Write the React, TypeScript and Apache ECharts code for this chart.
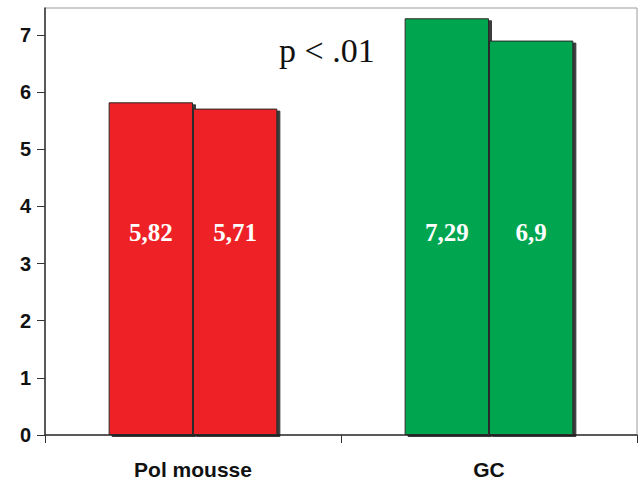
import React, { useEffect, useRef } from "react";
import * as echarts from "echarts";

const categories = ["Pol mousse", "GC"];
const seriesA = [5.82, 7.29];
const seriesB = [5.71, 6.9];
const barColors = ["#EE2126", "#00A64F"];
const yTicks = [0, 1, 2, 3, 4, 5, 6, 7];
const annotation = "p < .01";

const fmt = (v: number) => String(v).replace(".", ",");

export default function App() {
  const ref = useRef<HTMLDivElement>(null);
  useEffect(() => {
    if (!ref.current) return;
    const chart = echarts.init(ref.current, null, { renderer: "svg" });
    const mkSeries = (vals: number[], name: string) => ({
      type: "bar",
      name,
      barGap: "0%",
      barCategoryGap: "43%",
      data: vals.map((v, i) => ({
        value: v,
        itemStyle: { color: barColors[i] },
      })),
      itemStyle: {
        borderColor: "#2a2a2a",
        borderWidth: 1,
        shadowColor: "rgba(20,20,20,0.85)",
        shadowOffsetX: 3,
        shadowOffsetY: 2,
        shadowBlur: 1,
      },
      label: {
        show: true,
        position: "insideBottom",
        distance: 190,
        color: "#ffffff",
        fontFamily: "Liberation Serif",
        fontWeight: "bold",
        fontSize: 25,
        formatter: (p: any) => fmt(p.value),
      },
    });
    chart.setOption({
      animation: false,
      backgroundColor: "#ffffff",
      grid: {
        left: 45,
        right: 3,
        top: 8,
        bottom: 51,
        show: true,
        borderColor: "#9a9a9a",
        borderWidth: 1,
      },
      xAxis: {
        type: "category",
        data: categories,
        axisLine: { lineStyle: { color: "#333", width: 1.5 } },
        axisTick: { show: true, length: 8, lineStyle: { color: "#333" } },
        axisLabel: {
          margin: 24,
          color: "#111",
          fontFamily: "Liberation Sans",
          fontWeight: "bold",
          fontSize: 21,
        },
      },
      yAxis: {
        type: "value",
        min: 0,
        max: 7.47,
        interval: 1,
        splitLine: { show: false },
        axisLine: { show: true, lineStyle: { color: "#333", width: 1.5 } },
        axisTick: {
          show: true,
          length: 8,
          lineStyle: { color: "#333" },
          customValues: yTicks,
        },
        axisLabel: {
          margin: 14,
          color: "#111",
          fontFamily: "Liberation Sans",
          fontWeight: "bold",
          fontSize: 20,
          customValues: yTicks,
        },
      },
      graphic: [
        {
          type: "text",
          left: 279,
          top: 33,
          style: {
            text: annotation,
            fill: "#111",
            font: "34px 'Liberation Serif'",
          },
        },
      ],
      series: [mkSeries(seriesA, "A"), mkSeries(seriesB, "B")],
    });
    return () => chart.dispose();
  }, []);
  return (
    <div
      ref={ref}
      style={{ position: "fixed", left: 0, top: 0, width: 640, height: 486 }}
    />
  );
}
